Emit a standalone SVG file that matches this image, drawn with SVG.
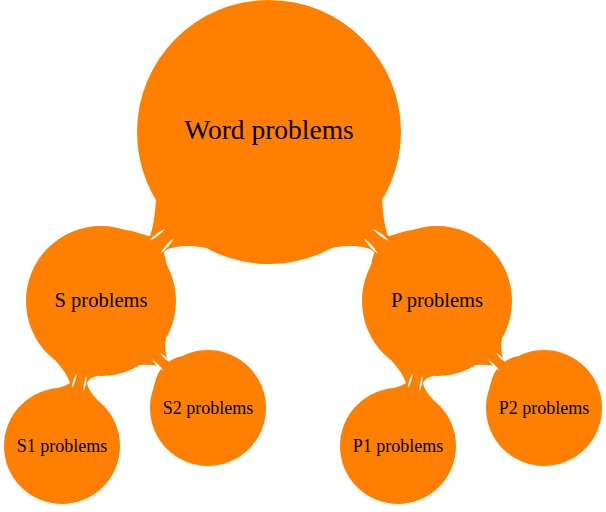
<svg xmlns="http://www.w3.org/2000/svg" width="606" height="512" viewBox="0 0 606 512">
<style>
.n{fill:#FF8000}
.c{fill:#FF8000}
.s{fill:#FFFFFF}
text{font-family:"Liberation Serif","Times New Roman",serif;fill:#000;text-anchor:middle}
.t0{font-size:27.5px}
.t1{font-size:20.5px}
.t2{font-size:18px}
</style>
<defs>
<g id="rootS">
<path class="c" d="M155.9,200 C155,215 153,228 150,236 C145,236 135,231 125.4,230.1 L101,301 L166.7,264.9 C166,258 164,255 164,252 C168,247 185,244 205.4,247.7 L269,132 Z"/>
<path class="s" d="M149.3,240.7 Q158.64,236.85 165,229 Q155.66,232.85 149.3,240.7 Z"/>
<path class="s" d="M160,254 Q168.87,247.82 174,238.3 Q165.13,244.48 160,254 Z"/>
</g>
<g id="sS1">
<path class="c" d="M56,361 C62,368 68,376 70,383 C66,386 60,388 52,388.9 L62,446 L97.3,400 C93,395 88,389 87,383 C89,379 92,377 97,375.9 L101,301 Z"/>
<path class="s" d="M76.7,373.3 Q72.3,380.17 71.7,388.3 Q76.1,381.43 76.7,373.3 Z"/>
<path class="s" d="M86.7,375 Q83.04,382.95 83.3,391.7 Q86.96,383.75 86.7,375 Z"/>
</g>
<g id="sS2">
<path class="c" d="M166,338.5 C164,348 166,357 169,361.5 C173,359 177,357 182,356.2 L208,408 L153.6,388 C156,378 158,372 162,368 C158,365 150,364 140,365.1 L101,301 Z"/>
<path class="s" d="M160,352.7 Q163.61,358.94 170,362.3 Q166.39,356.06 160,352.7 Z"/>
<path class="s" d="M151.7,359.3 Q156.1,366.43 163.3,370.7 Q158.9,363.57 151.7,359.3 Z"/>
</g>
</defs>
<g id="connectors">
<use href="#rootS"/>
<use href="#rootS" transform="translate(538,0) scale(-1,1)"/>
<use href="#sS1"/>
<use href="#sS2"/>
<use href="#sS1" transform="translate(336,0)"/>
<use href="#sS2" transform="translate(336,0)"/>
</g>
<g id="root"><circle class="n" cx="269" cy="132" r="132"/><text class="t0" x="269" y="139">Word problems</text></g>
<g id="s"><circle class="n" cx="101" cy="301" r="75"/><text class="t1" x="101" y="307">S problems</text></g>
<g id="p"><circle class="n" cx="437" cy="301" r="75"/><text class="t1" x="437" y="307">P problems</text></g>
<g id="s1"><circle class="n" cx="62" cy="446" r="58"/><text class="t2" x="62" y="452">S1 problems</text></g>
<g id="s2"><circle class="n" cx="208" cy="408" r="58"/><text class="t2" x="208" y="414">S2 problems</text></g>
<g id="p1"><circle class="n" cx="398" cy="446" r="58"/><text class="t2" x="398" y="452">P1 problems</text></g>
<g id="p2"><circle class="n" cx="544" cy="408" r="58"/><text class="t2" x="544" y="414">P2 problems</text></g>
</svg>
